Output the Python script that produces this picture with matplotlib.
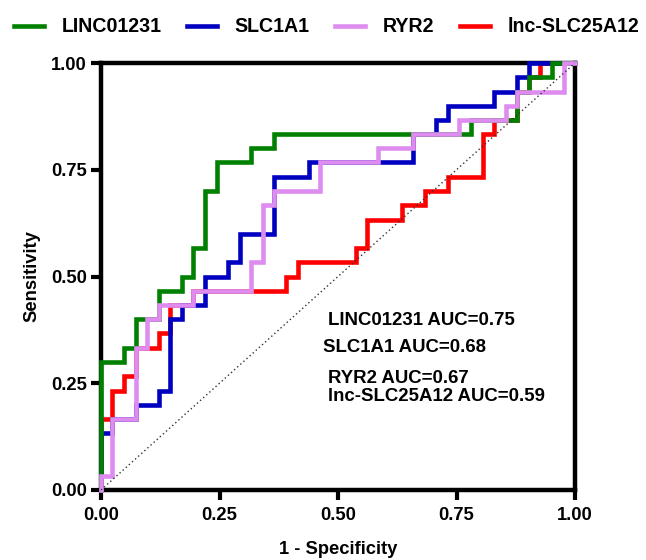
import numpy as np
import matplotlib
matplotlib.use("Agg")
import matplotlib.pyplot as plt

plt.rcParams['font.family'] = ['Liberation Sans', 'DejaVu Sans']
plt.rcParams['font.weight'] = 'bold'

# ROC step points (1 - specificity, sensitivity)
linc_fpr = [0, 0, 0.049, 0.073, 0.122, 0.171, 0.195, 0.220, 0.244, 0.317, 0.366,
            0.780, 0.878, 0.902, 0.951, 1.0]
linc_tpr = [0, 0.300, 0.333, 0.400, 0.467, 0.500, 0.567, 0.700, 0.767, 0.800, 0.833,
            0.867, 0.933, 0.967, 1.0, 1.0]

slc_fpr = [0, 0, 0.024, 0.073, 0.122, 0.146, 0.171, 0.220, 0.268, 0.293, 0.366,
           0.439, 0.659, 0.707, 0.732, 0.829, 0.878, 0.902, 1.0]
slc_tpr = [0, 0.133, 0.167, 0.200, 0.233, 0.400, 0.433, 0.500, 0.533, 0.600, 0.733,
           0.767, 0.833, 0.867, 0.900, 0.933, 0.967, 1.0, 1.0]

ryr_fpr = [0, 0, 0.024, 0.073, 0.098, 0.122, 0.195, 0.317, 0.341, 0.366, 0.463,
           0.585, 0.659, 0.756, 0.854, 0.878, 0.976, 1.0]
ryr_tpr = [0, 0.033, 0.167, 0.333, 0.400, 0.433, 0.467, 0.533, 0.667, 0.700, 0.767,
           0.800, 0.833, 0.867, 0.900, 0.933, 1.0, 1.0]

lnc_fpr = [0, 0, 0.024, 0.049, 0.073, 0.122, 0.146, 0.195, 0.390, 0.415, 0.537,
           0.561, 0.634, 0.683, 0.732, 0.805, 0.829, 0.878, 0.902, 0.927, 1.0]
lnc_tpr = [0, 0.167, 0.233, 0.267, 0.333, 0.367, 0.433, 0.467, 0.500, 0.533, 0.567,
           0.633, 0.667, 0.700, 0.733, 0.833, 0.867, 0.933, 0.967, 1.0, 1.0]

names = ['LINC01231', 'SLC1A1', 'RYR2', 'lnc-SLC25A12']
aucs = [0.75, 0.68, 0.67, 0.59]
colors = ['#008000', '#0000C0', '#DF8CF0', '#FF0000']
ticks = [0, 0.25, 0.5, 0.75, 1.0]

fig = plt.figure(figsize=(6.46, 5.6), dpi=100)
ax = fig.add_axes([101/646, 1 - 490/560, 474/646, 427/560])

curves = [(linc_fpr, linc_tpr), (slc_fpr, slc_tpr), (ryr_fpr, ryr_tpr), (lnc_fpr, lnc_tpr)]
zorders = [4, 3, 5, 2]
handles = []
for (fx, ty), name, c, z in zip(curves, names, colors, zorders):
    h, = ax.plot(fx, ty, drawstyle='steps-post', color=c, lw=3.3, label=name,
                 zorder=z, clip_on=False, solid_joinstyle='miter')
    handles.append(h)

ax.plot([0, 1], [0, 1], ls=(0, (1, 2)), color='#333333', lw=1.0, zorder=6)

ax.set_xlim(0, 1)
ax.set_ylim(0, 1)
ax.set_xticks(ticks)
ax.set_yticks(ticks)
ax.set_xticklabels([f'{t:.2f}' for t in ticks])
ax.set_yticklabels([f'{t:.2f}' for t in ticks])
for s in ax.spines.values():
    s.set_linewidth(3.2)
ax.tick_params(direction='out', length=7.5, width=3.0, labelsize=13.2)
ax.tick_params(axis='x', pad=5)
ax.tick_params(axis='y', pad=2.5)

ax.set_xlabel('1 - Specificity', fontsize=13.2, fontweight='bold', labelpad=12)
ax.set_ylabel('Sensitivity', fontsize=13.2, fontweight='bold', labelpad=8)

# AUC annotations
ax.text(0.479, 0.396, f'{names[0]} AUC={aucs[0]:.2f}', fontsize=13.4, va='center')
ax.text(0.468, 0.333, f'{names[1]} AUC={aucs[1]:.2f}', fontsize=13.4, va='center')
ax.text(0.479, 0.262, f'{names[2]} AUC={aucs[2]:.2f}', fontsize=13.4, va='center')
ax.text(0.479, 0.218, f'{names[3]} AUC={aucs[3]:.2f}', fontsize=13.4, va='center')

fig.legend(handles=handles, labels=names, ncol=4, frameon=False,
           loc='center left', bbox_to_anchor=(14/646, 1 - 27/560),
           borderpad=0, borderaxespad=0, handlelength=1.55, handletextpad=0.88,
           columnspacing=1.3, prop={'size': 14.1, 'weight': 'bold'})

fig.savefig('out.png', dpi=100)
